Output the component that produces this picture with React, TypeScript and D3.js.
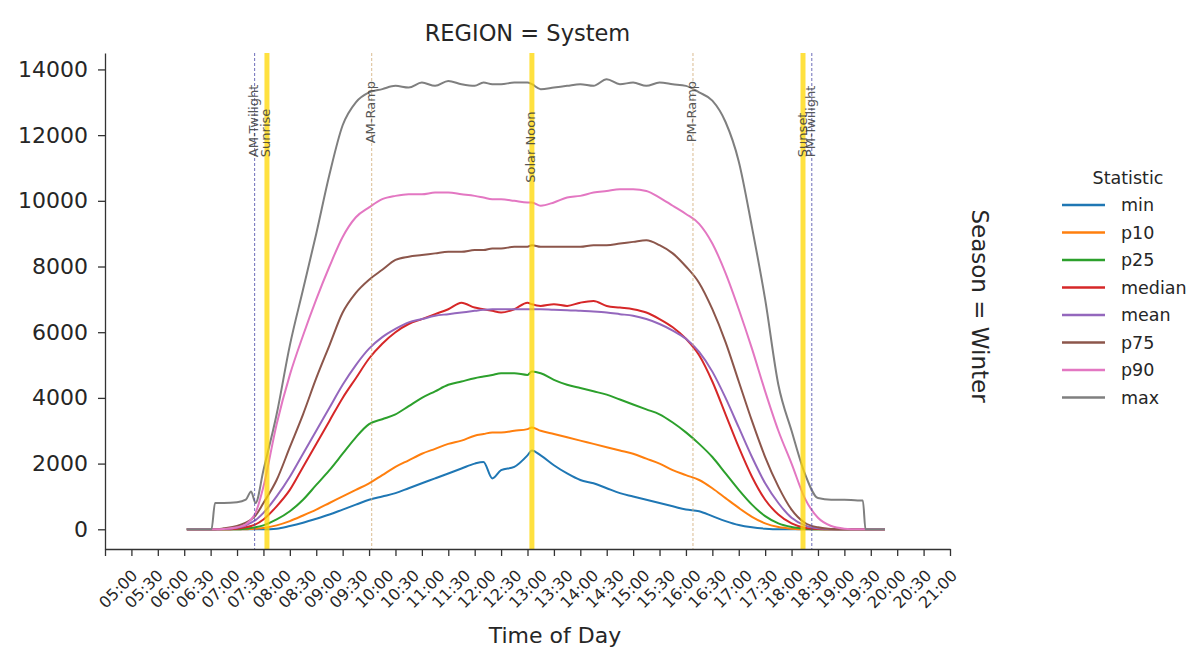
import { useEffect, useRef } from 'react'
import * as d3 from 'd3'

// Time-of-day samples shared by every statistic
const TIMES = [
  '06:33', '06:45', '07:01', '07:05', '07:15', '07:30', '07:40', '07:46', '07:51', '08:00',
  '08:15', '08:30', '08:45', '09:00', '09:15', '09:30', '09:45', '10:00', '10:15', '10:30',
  '10:45', '11:00', '11:15', '11:30', '11:45', '12:00', '12:10', '12:20', '12:30', '12:45',
  '13:00', '13:05', '13:15', '13:30', '13:45', '14:00', '14:15', '14:30', '14:45', '15:00',
  '15:15', '15:30', '15:45', '16:00', '16:15', '16:30', '16:45', '17:00', '17:15', '17:30',
  '17:45', '18:00', '18:15', '18:30', '18:45', '19:00', '19:15', '19:21', '19:24', '19:46',
]

const MIN = [
  0, 0, 0, 0, 0, 0, 0, 0, 0, 0,
  20, 100, 200, 320, 450, 600, 750, 900, 1000, 1100,
  1250, 1400, 1550, 1700, 1850, 2000, 2050, 1550, 1800, 1900,
  2250, 2400, 2250, 1950, 1700, 1500, 1400, 1250, 1100, 1000,
  900, 800, 700, 600, 550, 400, 250, 130, 60, 20,
  0, 0, 0, 0, 0, 0, 0, 0, 0, 0,
]
const P10 = [
  0, 0, 0, 0, 0, 0, 0, 10, 20, 40,
  120, 250, 420, 600, 800, 1000, 1200, 1400, 1650, 1900,
  2100, 2300, 2450, 2600, 2700, 2850, 2900, 2950, 2950, 3000,
  3050, 3100, 3000, 2900, 2800, 2700, 2600, 2500, 2400, 2300,
  2150, 2000, 1800, 1650, 1500, 1250, 950, 650, 380, 180,
  70, 20, 0, 0, 0, 0, 0, 0, 0, 0,
]
const P25 = [
  0, 0, 0, 0, 0, 0, 20, 40, 60, 120,
  300, 550, 900, 1350, 1800, 2300, 2800, 3200, 3350, 3500,
  3750, 4000, 4200, 4400, 4500, 4600, 4650, 4700, 4750, 4750,
  4700, 4800, 4750, 4550, 4400, 4300, 4200, 4100, 3950, 3800,
  3650, 3500, 3250, 2950, 2600, 2200, 1700, 1200, 750, 400,
  180, 70, 20, 0, 0, 0, 0, 0, 0, 0,
]
const MEDIAN = [
  0, 0, 0, 0, 0, 20, 60, 100, 150, 300,
  700, 1200, 1900, 2600, 3300, 4000, 4600, 5200, 5650, 6000,
  6250, 6400, 6550, 6700, 6900, 6750, 6700, 6650, 6600, 6700,
  6900, 6850, 6800, 6850, 6800, 6900, 6950, 6800, 6750, 6700,
  6600, 6400, 6150, 5800, 5300, 4500, 3500, 2500, 1600, 900,
  450, 180, 50, 10, 0, 0, 0, 0, 0, 0,
]
const MEAN = [
  0, 0, 0, 0, 10, 50, 120, 200, 280, 500,
  1000, 1600, 2300, 3000, 3700, 4400, 5000, 5500, 5850, 6100,
  6300, 6400, 6500, 6550, 6600, 6650, 6680, 6700, 6700, 6700,
  6700, 6700, 6700, 6680, 6670, 6650, 6630, 6600, 6550, 6500,
  6400, 6250, 6050, 5800, 5400, 4800, 4000, 3100, 2200, 1400,
  800, 350, 120, 30, 5, 0, 0, 0, 0, 0,
]
const P75 = [
  0, 0, 0, 0, 30, 100, 200, 300, 420, 800,
  1500, 2500, 3500, 4600, 5600, 6600, 7200, 7600, 7900, 8200,
  8300, 8350, 8400, 8450, 8450, 8500, 8500, 8550, 8550, 8600,
  8600, 8650, 8600, 8600, 8600, 8600, 8650, 8650, 8700, 8750,
  8800, 8650, 8400, 8000, 7500, 6700, 5700, 4500, 3300, 2200,
  1300, 600, 200, 60, 10, 0, 0, 0, 0, 0,
]
const P90 = [
  0, 0, 0, 0, 10, 60, 150, 300, 500, 1300,
  3200, 4700, 5900, 7000, 8000, 8900, 9500, 9800, 10050, 10150,
  10200, 10200, 10250, 10250, 10200, 10150, 10100, 10050, 10050, 10000,
  9950, 9950, 9850, 9950, 10100, 10150, 10250, 10300, 10350, 10350,
  10300, 10100, 9850, 9600, 9300, 8700, 7800, 6700, 5500, 4200,
  3000, 2000, 950, 350, 100, 20, 0, 0, 0, 0,
]
const MAX = [
  0, 0, 0, 800, 800, 820, 900, 1150, 800, 1800,
  3500, 5600, 7300, 9000, 10800, 12300, 13000, 13300, 13400, 13500,
  13450, 13600, 13500, 13650, 13550, 13500, 13600, 13550, 13550, 13600,
  13600, 13550, 13400, 13450, 13500, 13550, 13500, 13700, 13550, 13600,
  13500, 13600, 13550, 13500, 13300, 13050, 12400, 11200, 9200, 7000,
  4400, 3000, 1700, 950, 900, 900, 880, 880, 0, 0,
]

const STATISTICS = ['min', 'p10', 'p25', 'median', 'mean', 'p75', 'p90', 'max']
const SERIES = [MIN, P10, P25, MEDIAN, MEAN, P75, P90, MAX]
const COLORS = ['#1f77b4', '#ff7f0e', '#2ca02c', '#d62728', '#9467bd', '#8c564b', '#e377c2', '#7f7f7f']

// Solar events drawn as vertical markers
const EVENT_LABELS = ['AM-Twilight', 'Sunrise', 'AM-Ramp', 'Solar Noon', 'PM-Ramp', 'Sunset', 'PM-Twilight']
const EVENT_TIMES = ['07:50', '08:04', '10:03', '13:05', '16:08', '18:13', '18:23']

const X_TICKS = [
  '05:00', '05:30', '06:00', '06:30', '07:00', '07:30', '08:00', '08:30', '09:00', '09:30',
  '10:00', '10:30', '11:00', '11:30', '12:00', '12:30', '13:00', '13:30', '14:00', '14:30',
  '15:00', '15:30', '16:00', '16:30', '17:00', '17:30', '18:00', '18:30', '19:00', '19:30',
  '20:00', '20:30', '21:00',
]
const Y_TICKS = [0, 2000, 4000, 6000, 8000, 10000, 12000, 14000]

const FONT = '"DejaVu Sans", sans-serif'

const toMinutes = (s: string) => {
  const [h, m] = s.split(':').map(Number)
  return h * 60 + m
}

export default function App() {
  const svgRef = useRef<SVGSVGElement | null>(null)

  useEffect(() => {
    if (!svgRef.current) return
    const svg = d3.select(svgRef.current)
    svg.selectAll('*').remove()

    const left = 105
    const right = 950
    const top = 53
    const bottom = 549
    const mid = (left + right) / 2

    const x = d3.scaleLinear().domain([toMinutes('05:00'), toMinutes('21:00')]).range([left, right])
    const y = d3.scaleLinear().domain([-600, 14500]).range([bottom, top])
    const times = TIMES.map(toMinutes)

    const line = d3.line<number>()
      .x((_, i) => x(times[i]))
      .y(d => y(d))
      .curve(d3.curveMonotoneX)

    // statistic curves
    SERIES.forEach((values, i) => {
      svg.append('path')
        .datum(values)
        .attr('fill', 'none')
        .attr('stroke', COLORS[i])
        .attr('stroke-width', 2)
        .attr('stroke-linejoin', 'round')
        .attr('d', line)
    })

    // solar event markers
    EVENT_LABELS.forEach((label, i) => {
      const ex = x(toMinutes(EVENT_TIMES[i]))
      const isTwilight = label.includes('Twilight')
      const isRamp = label.includes('Ramp')

      const l = svg.append('line')
        .attr('x1', ex).attr('x2', ex)
        .attr('y1', top).attr('y2', bottom)

      if (isTwilight) {
        l.attr('stroke', '#4b4ba8').attr('stroke-width', 1)
          .attr('stroke-dasharray', '3,2').attr('opacity', 0.8)
      } else if (isRamp) {
        l.attr('stroke', '#d2ac78').attr('stroke-width', 1)
          .attr('stroke-dasharray', '3,2').attr('opacity', 0.8)
      } else {
        l.attr('stroke', '#ffd700').attr('stroke-width', 5).attr('opacity', 0.75)
      }

      // vertical text, reading bottom to top
      let anchor = 'start'
      let ty = y(11330)
      if (isRamp) { anchor = 'end'; ty = y(13650) }
      if (label === 'Solar Noon') ty = y(10550)

      svg.append('text')
        .attr('transform', `translate(${ex - 1},${ty}) rotate(-90)`)
        .attr('text-anchor', anchor)
        .attr('dominant-baseline', 'central')
        .attr('font-family', FONT)
        .attr('font-size', 13)
        .attr('fill', '#3a3a3a')
        .attr('opacity', 0.85)
        .text(label)
    })

    // axes
    const xAxis = d3.axisBottom(x)
      .tickValues(X_TICKS.map(toMinutes))
      .tickFormat((_, i) => X_TICKS[i])
      .tickSize(7)
      .tickSizeOuter(0)

    const gx = svg.append('g')
      .attr('transform', `translate(0,${bottom})`)
      .call(xAxis)
    gx.selectAll<SVGTextElement, number>('text')
      .attr('y', 0)
      .attr('dy', '0.35em')
      .attr('transform', d => `translate(${(mid - x(d)) * 0.03},40) rotate(-45)`)
      .attr('text-anchor', 'middle')
      .attr('font-family', FONT)
      .attr('font-size', 16)
      .attr('fill', '#262626')

    const yAxis = d3.axisLeft(y)
      .tickValues(Y_TICKS)
      .tickFormat(d3.format('d'))
      .tickSize(7)
      .tickPadding(10)
      .tickSizeOuter(0)

    const gy = svg.append('g')
      .attr('transform', `translate(${left},0)`)
      .call(yAxis)
    gy.selectAll('text')
      .attr('font-family', FONT)
      .attr('font-size', 22)
      .attr('fill', '#262626')

    svg.selectAll('.domain').attr('stroke', '#333').attr('stroke-width', 1.3)
    svg.selectAll('.tick line').attr('stroke', '#333').attr('stroke-width', 1.3)

    // titles
    svg.append('text')
      .attr('x', mid)
      .attr('y', 41)
      .attr('text-anchor', 'middle')
      .attr('font-family', FONT)
      .attr('font-size', 22.5)
      .attr('fill', '#262626')
      .text('REGION = System')

    svg.append('text')
      .attr('x', 555)
      .attr('y', 643)
      .attr('text-anchor', 'middle')
      .attr('font-family', FONT)
      .attr('font-size', 22)
      .attr('fill', '#262626')
      .text('Time of Day')

    svg.append('text')
      .attr('transform', 'translate(980,306) rotate(90)')
      .attr('text-anchor', 'middle')
      .attr('dominant-baseline', 'central')
      .attr('font-family', FONT)
      .attr('font-size', 23)
      .attr('fill', '#262626')
      .text('Season = Winter')

    // legend
    const legend = svg.append('g')
    legend.append('text')
      .attr('x', 1128)
      .attr('y', 178)
      .attr('text-anchor', 'middle')
      .attr('dominant-baseline', 'central')
      .attr('font-family', FONT)
      .attr('font-size', 17.5)
      .attr('fill', '#262626')
      .text('Statistic')

    STATISTICS.forEach((name, i) => {
      const ry = 205 + i * 27.5
      legend.append('line')
        .attr('x1', 1062).attr('x2', 1105)
        .attr('y1', ry).attr('y2', ry)
        .attr('stroke', COLORS[i])
        .attr('stroke-width', 2.5)
      legend.append('text')
        .attr('x', 1121)
        .attr('y', ry)
        .attr('dominant-baseline', 'central')
        .attr('font-family', FONT)
        .attr('font-size', 17.5)
        .attr('fill', '#262626')
        .text(name)
    })
  }, [])

  return (
    <div>
      <style>{`body { margin: 0; background: #fff; }`}</style>
      <svg ref={svgRef} width={1201} height={650} style={{ display: 'block' }} />
    </div>
  )
}
